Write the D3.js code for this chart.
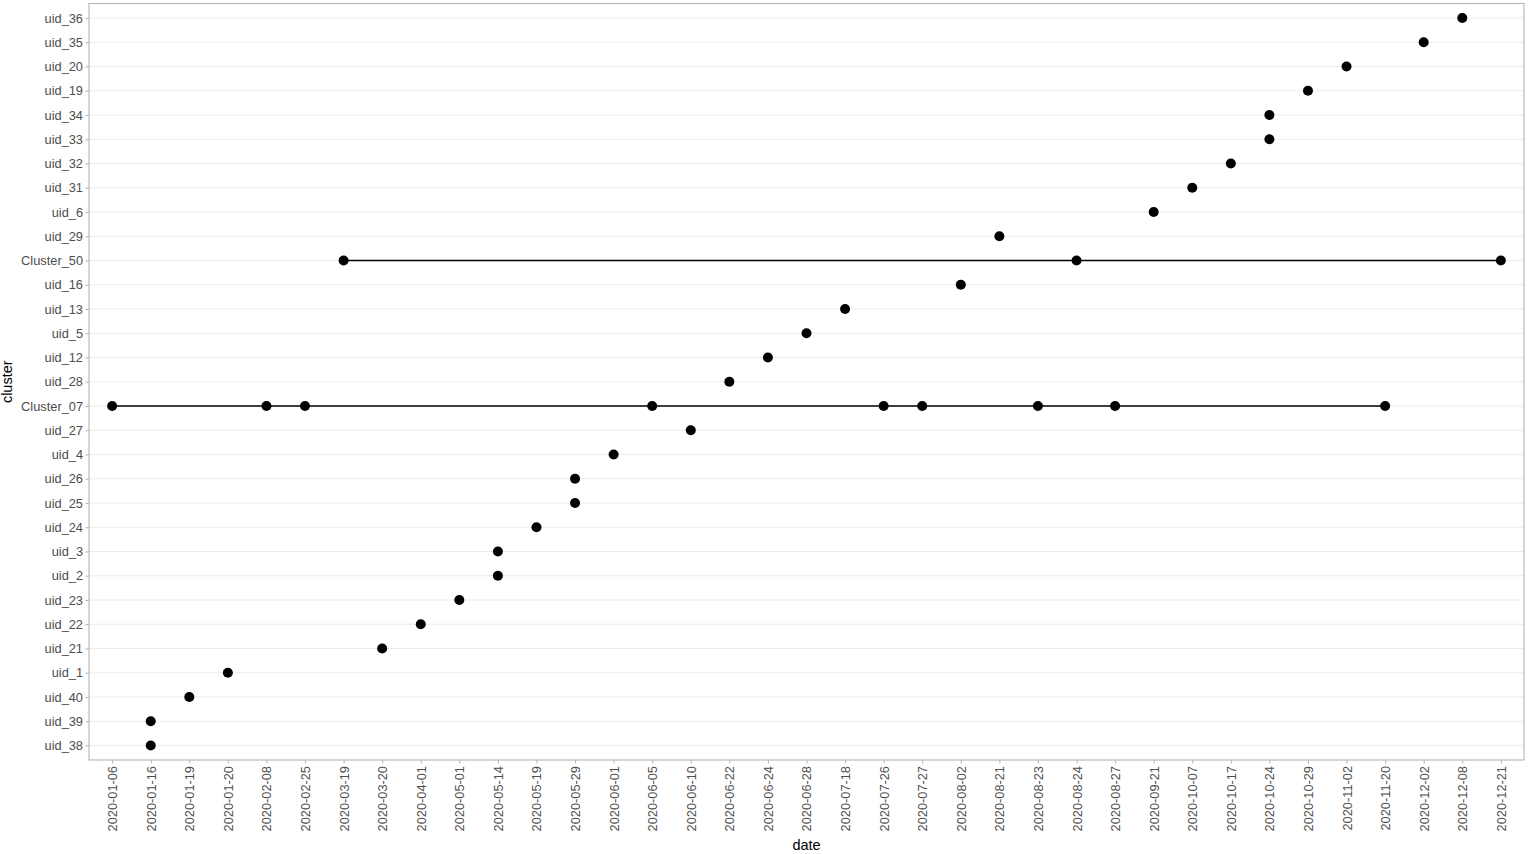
<!DOCTYPE html>
<html><head><meta charset="utf-8">
<script src="https://cdn.jsdelivr.net/npm/d3@7"></script>
<style>body{margin:0;background:#fff;} svg{display:block;}</style>
</head><body>
<script>
const dates = ["2020-01-06","2020-01-16","2020-01-19","2020-01-20","2020-02-08","2020-02-25","2020-03-19","2020-03-20","2020-04-01","2020-05-01","2020-05-14","2020-05-19","2020-05-29","2020-06-01","2020-06-05","2020-06-10","2020-06-22","2020-06-24","2020-06-28","2020-07-18","2020-07-26","2020-07-27","2020-08-02","2020-08-21","2020-08-23","2020-08-24","2020-08-27","2020-09-21","2020-10-07","2020-10-17","2020-10-24","2020-10-29","2020-11-02","2020-11-20","2020-12-02","2020-12-08","2020-12-21"];
const clusters = ["uid_38","uid_39","uid_40","uid_1","uid_21","uid_22","uid_23","uid_2","uid_3","uid_24","uid_25","uid_26","uid_4","uid_27","Cluster_07","uid_28","uid_12","uid_5","uid_13","uid_16","Cluster_50","uid_29","uid_6","uid_31","uid_32","uid_33","uid_34","uid_19","uid_20","uid_35","uid_36"];
const pointCluster = ["uid_38","uid_39","uid_40","uid_1","uid_21","uid_22","uid_23","uid_2","uid_3","uid_24","uid_25","uid_26","uid_4","uid_27",
 "Cluster_07","Cluster_07","Cluster_07","Cluster_07","Cluster_07","Cluster_07","Cluster_07","Cluster_07","Cluster_07",
 "uid_28","uid_12","uid_5","uid_13","uid_16","Cluster_50","Cluster_50","Cluster_50","uid_29","uid_6","uid_31","uid_32","uid_33","uid_34","uid_19","uid_20","uid_35","uid_36"];
const pointDate = ["2020-01-16","2020-01-16","2020-01-19","2020-01-20","2020-03-20","2020-04-01","2020-05-01","2020-05-14","2020-05-14","2020-05-19","2020-05-29","2020-05-29","2020-06-01","2020-06-10",
 "2020-01-06","2020-02-08","2020-02-25","2020-06-05","2020-07-26","2020-07-27","2020-08-23","2020-08-27","2020-11-20",
 "2020-06-22","2020-06-24","2020-06-28","2020-07-18","2020-08-02","2020-03-19","2020-08-24","2020-12-21","2020-08-21","2020-09-21","2020-10-07","2020-10-17","2020-10-24","2020-10-24","2020-10-29","2020-11-02","2020-12-02","2020-12-08"];

const W = 1528, H = 854;
const m = {left: 89, right: 4, top: 3.5, bottom: 94};
const FONT = "Liberation Sans, Arial, sans-serif";
const svg = d3.select("body").append("svg").attr("width", W).attr("height", H);
const x = d3.scalePoint().domain(dates).range([m.left, W - m.right]).padding(0.6);
const y = d3.scalePoint().domain(clusters).range([H - m.bottom, m.top]).padding(0.6);

const points = pointCluster.map((c, i) => ({c, d: pointDate[i]}));

// gridlines
svg.append("g").selectAll("line").data(clusters).join("line")
  .attr("x1", m.left).attr("x2", W - m.right)
  .attr("y1", d => y(d)).attr("y2", d => y(d))
  .attr("stroke", "#ebebeb").attr("stroke-width", 1.07);

// lines per cluster
const groups = d3.group(points, p => p.c);
for (const [c, arr] of groups) {
  if (arr.length < 2) continue;
  const xs = arr.map(p => x(p.d));
  svg.append("line").attr("x1", d3.min(xs)).attr("x2", d3.max(xs))
    .attr("y1", y(c)).attr("y2", y(c)).attr("stroke", "#000").attr("stroke-width", 1.3);
}

svg.append("g").selectAll("circle").data(points).join("circle")
  .attr("cx", p => x(p.d)).attr("cy", p => y(p.c)).attr("r", 5).attr("fill", "#000");

// panel border
svg.append("rect").attr("x", m.left).attr("y", m.top)
  .attr("width", W - m.right - m.left).attr("height", H - m.bottom - m.top)
  .attr("fill", "none").attr("stroke", "#b3b3b3").attr("stroke-width", 1.07);

// axes
const xa = svg.append("g").attr("transform", `translate(0,${H - m.bottom})`)
  .call(d3.axisBottom(x).tickSize(3.5).tickPadding(3));
xa.select(".domain").remove();
xa.selectAll("line").attr("stroke", "#b3b3b3");
xa.selectAll("text").attr("fill", "#4d4d4d").style("font-family", FONT).style("font-size", "12.8px")
  .attr("transform", "rotate(-90)").attr("text-anchor", "end").attr("dy", "0.35em").attr("x", -6).attr("y", 0);

const ya = svg.append("g").attr("transform", `translate(${m.left},0)`)
  .call(d3.axisLeft(y).tickSize(3.5).tickPadding(2.5));
ya.select(".domain").remove();
ya.selectAll("line").attr("stroke", "#b3b3b3");
ya.selectAll("text").attr("fill", "#4d4d4d").style("font-family", FONT).style("font-size", "12.8px");

svg.append("text").attr("x", (m.left + W - m.right) / 2).attr("y", 850)
  .attr("text-anchor", "middle").style("font-family", FONT).style("font-size", "14.5px").text("date");
svg.append("text").attr("transform", `translate(11.5,${(m.top + H - m.bottom) / 2}) rotate(-90)`)
  .attr("text-anchor", "middle").style("font-family", FONT).style("font-size", "14.5px").text("cluster");
</script>
</body></html>
